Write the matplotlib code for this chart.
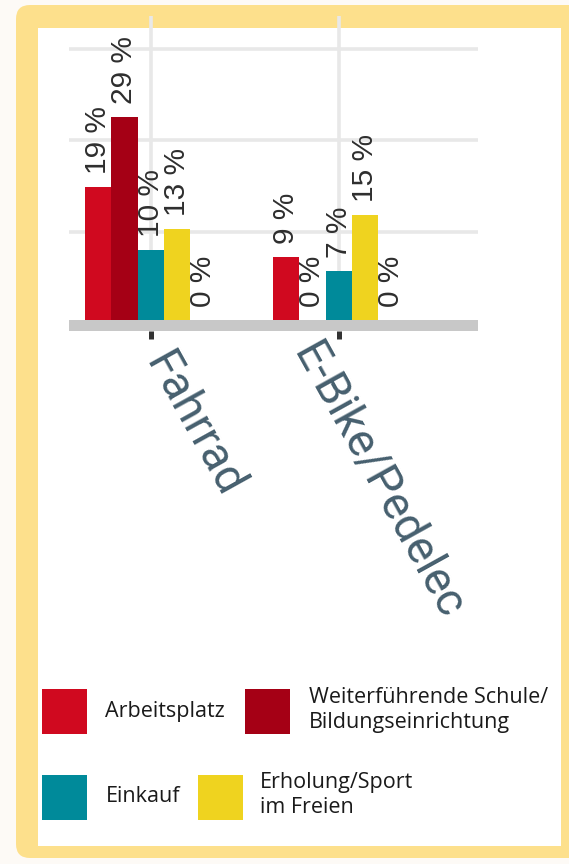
import matplotlib
matplotlib.use("Agg")
import matplotlib.pyplot as plt
from matplotlib.patches import Rectangle, FancyBboxPatch
import numpy as np

# ---- data ----
categories = ["Fahrrad", "E-Bike/Pedelec"]
series_names = ["Arbeitsplatz", "Weiterführende Schule/\nBildungseinrichtung",
                "Einkauf", "Erholung/Sport\nim Freien", "Sonstiges"]
values = {
    "Arbeitsplatz": [19, 9],
    "Weiterführende Schule/\nBildungseinrichtung": [29, 0],
    "Einkauf": [10, 7],
    "Erholung/Sport\nim Freien": [13, 15],
    "Sonstiges": [0, 0],
}
colors = ["#d0091f", "#a50015", "#008a9a", "#efd31f", "#888888"]
legend_series = series_names[:4]
gridlines = [12.6, 25.7, 38.7]

W, H = 569, 864
fig = plt.figure(figsize=(W / 100, H / 100), dpi=100)
fig.patch.set_facecolor("#fdfaf6")

# background / frame / legend axes in pixel coordinates
bg = fig.add_axes([0, 0, 1, 1], zorder=0)
bg.set_xlim(0, W)
bg.set_ylim(H, 0)
bg.axis("off")
bg.add_patch(FancyBboxPatch((16, 5), 600, 853, boxstyle="round,pad=0,rounding_size=14",
                            facecolor="#fde08c", edgecolor="none"))
bg.add_patch(Rectangle((38, 28), 523, 818, facecolor="white", edgecolor="none"))

# legend (flow layout)
leg_items = [
    (legend_series[0], colors[0], 42, 689, 105, 711),
    (legend_series[1], colors[1], 245, 689, 309, 710),
    (legend_series[2], colors[2], 42, 775, 106, 797),
    (legend_series[3], colors[3], 198, 775, 260, 795),
]
for name, c, sx, sy, tx, ty in leg_items:
    bg.add_patch(Rectangle((sx, sy), 45, 45, facecolor=c, edgecolor="none"))
    bg.text(tx, ty, name, fontsize=15.5, family="Open Sans", color="#1a1a1a",
            ha="left", va="center", linespacing=1.3)

# chart axes
ax = fig.add_axes([69 / W, 1 - 331 / H, 409 / W, 315 / H], zorder=1)
ax.set_facecolor("none")
px_per_unit = 188.0
px_per_pct = 7.0
x0_px = 150.7
ax.set_xlim((69 - x0_px) / px_per_unit, (478 - x0_px) / px_per_unit)
ax.set_ylim(-11 / px_per_pct, 304 / px_per_pct)

x = np.arange(len(categories))
bw = 26.4 / px_per_unit
n = len(series_names)
for j, name in enumerate(series_names):
    xs = x + (j - (n - 1) / 2) * bw
    vals = values[name]
    ax.bar(xs, vals, width=bw, color=colors[j], zorder=3, linewidth=0)
    for xi, v in zip(xs, vals):
        ax.annotate(f"{v} %", (xi, v), xytext=(0, 9.5), textcoords="offset points",
                    rotation=90, ha="center", va="bottom", fontsize=21.5,
                    family="Liberation Sans", color="#2e2e2e", zorder=5)

ax.axhspan(ax.get_ylim()[0], 0, color="#c8c8c8", zorder=4, linewidth=0)
ax.set_yticks(gridlines)
ax.set_xticks(x)
ax.grid(True, color="#e8e8e8", linewidth=2.6, zorder=1)
ax.set_axisbelow(True)
ax.tick_params(axis="y", length=0, labelleft=False)
ax.tick_params(axis="x", direction="out", length=5.8, width=3.6, color="#333333",
               labelbottom=False)
for s in ax.spines.values():
    s.set_visible(False)

# category labels
label_offsets = [(-6, 31), (-47, 22)]
for xi, cat, (dx, dy) in zip(x, categories, label_offsets):
    ax.annotate(cat, (xi, ax.get_ylim()[0]), xytext=(dx, -dy), textcoords="offset pixels",
                rotation=-61, rotation_mode="anchor", ha="left", va="baseline",
                fontsize=33, family="Roboto", color="#465f6e",
                annotation_clip=False)

fig.savefig("out.png", dpi=100, facecolor=fig.get_facecolor())
